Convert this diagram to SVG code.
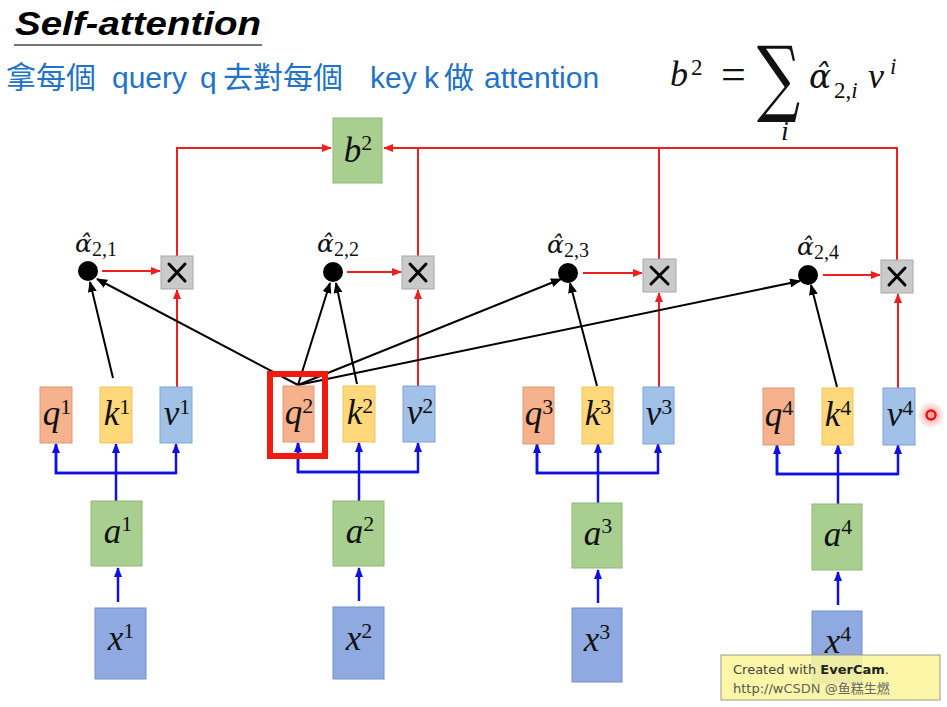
<svg xmlns="http://www.w3.org/2000/svg" width="947" height="707" viewBox="0 0 947 707">
<defs>
<marker id="ar" markerUnits="userSpaceOnUse" markerWidth="10" markerHeight="8" refX="9" refY="4" orient="auto"><path d="M0,0 L10,4 L0,8 Z" fill="#f01e1e"/></marker>
<marker id="ab" markerUnits="userSpaceOnUse" markerWidth="10" markerHeight="8" refX="9" refY="4" orient="auto"><path d="M0,0 L10,4 L0,8 Z" fill="#1010e0"/></marker>
<marker id="ak" markerUnits="userSpaceOnUse" markerWidth="11" markerHeight="9" refX="10" refY="4.5" orient="auto"><path d="M0,0 L11,4.5 L0,9 Z" fill="#000"/></marker>
<radialGradient id="glow"><stop offset="0" stop-color="#ff4040" stop-opacity="0.55"/><stop offset="1" stop-color="#ff4040" stop-opacity="0"/></radialGradient>
</defs>
<style>
.q{fill:#f5b28c;stroke:#e0987a;stroke-width:1}
.k{fill:#fed87a;stroke:#efc35a;stroke-width:1}
.v{fill:#a2c1e8;stroke:#80a4d2;stroke-width:1}
.g{fill:#a9cf90;stroke:#8db976;stroke-width:1}
.x{fill:#8faae0;stroke:#7190cc;stroke-width:1}
.m{fill:#cacaca;stroke:#a8a8a8;stroke-width:1}
.mx{stroke:#000;stroke-width:3;stroke-linecap:round}
.t{font-family:"Liberation Serif","DejaVu Serif",serif;font-style:italic;font-size:35px;fill:#111;text-anchor:middle}
.s{font-style:normal;font-size:22px}
.al{font-family:"DejaVu Serif","Liberation Serif",serif;font-style:italic;font-size:25px;fill:#111}
.sub{font-family:"Liberation Serif",serif;font-style:normal;font-size:20px}
.sub1{font-family:"Liberation Sans",Arial,sans-serif;font-size:30px;fill:#2273c8}
.red{stroke:#f01e1e;stroke-width:2;fill:none}
.blu{stroke:#1010e0;stroke-width:2.5;fill:none}
.blk{stroke:#000;stroke-width:2;fill:none}
</style>
<rect width="947" height="707" fill="#fff"/>

<g id="title">
<text x="15" y="35" font-family="'Liberation Sans',Arial,sans-serif" font-weight="bold" font-style="italic" font-size="34" textLength="246" lengthAdjust="spacingAndGlyphs" fill="#000">Self-attention</text>
<line x1="14" y1="45" x2="262" y2="45" stroke="#777" stroke-width="2"/>
</g>
<g id="subtitle">
<text class="sub1" y="88"><tspan x="6" font-family="'Noto Sans CJK TC',sans-serif">拿每個</tspan><tspan x="112">query</tspan><tspan x="200">q</tspan><tspan x="223" font-family="'Noto Sans CJK TC',sans-serif">去對每個</tspan><tspan x="370">key</tspan><tspan x="424">k</tspan><tspan x="444" font-family="'Noto Sans CJK TC',sans-serif">做</tspan><tspan x="484">attention</tspan></text>
</g>
<g id="formula" font-family="'Liberation Serif','DejaVu Serif',serif" fill="#111">
<text font-style="italic" font-size="36"><tspan x="670" y="86">b</tspan><tspan x="691" y="75" font-style="normal" font-size="23">2</tspan><tspan x="721" y="89" font-style="normal" font-size="44">=</tspan><tspan x="809" y="88" font-family="'DejaVu Serif',serif" font-size="33">α̂</tspan><tspan x="834" y="98" font-style="normal" font-size="23">2,</tspan><tspan font-size="23">i</tspan><tspan x="868" y="88">v</tspan><tspan x="890" y="74" font-size="23">i</tspan></text>
<text x="0" y="0" font-family="'DejaVu Serif',serif" font-size="84" transform="translate(757,106) scale(0.72,1)">∑</text>
<text x="781" y="140" font-style="italic" font-size="28">i</text>
</g>

<g id="connectors">
<path class="red" d="M177,256 V148 H331" marker-end="url(#ar)"/>
<path class="red" d="M897,260 V148 H384" marker-end="url(#ar)"/>
<path class="red" d="M418,256 V148"/>
<path class="red" d="M659,259 V148"/>
<path class="red" d="M102,271 H160" marker-end="url(#ar)"/>
<path class="red" d="M347,272 H401" marker-end="url(#ar)"/>
<path class="red" d="M583,273 H642" marker-end="url(#ar)"/>
<path class="red" d="M823,275 H880" marker-end="url(#ar)"/>
<path class="red" d="M177,387 V290" marker-end="url(#ar)"/>
<path class="red" d="M418,386 V290" marker-end="url(#ar)"/>
<path class="red" d="M659,387 V293" marker-end="url(#ar)"/>
<path class="red" d="M898,388 V294" marker-end="url(#ar)"/>
<path class="blk" d="M113,378 L90,282" marker-end="url(#ak)"/>
<path class="blk" d="M298,385 L97,279" marker-end="url(#ak)"/>
<path class="blk" d="M298,385 L330,283" marker-end="url(#ak)"/>
<path class="blk" d="M357,384 L336,283" marker-end="url(#ak)"/>
<path class="blk" d="M298,385 L561,279" marker-end="url(#ak)"/>
<path class="blk" d="M597,386 L570,283" marker-end="url(#ak)"/>
<path class="blk" d="M298,385 L800,281" marker-end="url(#ak)"/>
<path class="blk" d="M837,387 L811,285" marker-end="url(#ak)"/>
<path class="blu" d="M116,501 V444" marker-end="url(#ab)"/>
<path class="blu" d="M56,444 V473 H176 V444" marker-end="url(#ab)"/>
<path class="blu" d="M176,473 H56 V444" marker-end="url(#ab)"/>
<path class="blu" d="M359,501 V443" marker-end="url(#ab)"/>
<path class="blu" d="M298,443 V472 H418 V443" marker-end="url(#ab)"/>
<path class="blu" d="M418,472 H298 V443" marker-end="url(#ab)"/>
<path class="blu" d="M598,503 V444" marker-end="url(#ab)"/>
<path class="blu" d="M537,444 V473 H658 V444" marker-end="url(#ab)"/>
<path class="blu" d="M658,473 H537 V444" marker-end="url(#ab)"/>
<path class="blu" d="M838,504 V445" marker-end="url(#ab)"/>
<path class="blu" d="M777,445 V474 H898 V445" marker-end="url(#ab)"/>
<path class="blu" d="M898,474 H777 V445" marker-end="url(#ab)"/>
<path class="blu" d="M118,602 V568" marker-end="url(#ab)"/>
<path class="blu" d="M359,601 V568" marker-end="url(#ab)"/>
<path class="blu" d="M598,603 V570" marker-end="url(#ab)"/>
<path class="blu" d="M838,605 V572" marker-end="url(#ab)"/>
</g>

<g id="b2"><rect class="g" x="333" y="118" width="49" height="65"/><text class="t" x="358" y="162" font-size="32">b<tspan class="s" dy="-12">2</tspan></text></g>

<g id="alpha21"><circle cx="88" cy="271" r="10" fill="#000"/><text class="al" x="75" y="252">α̂<tspan class="sub" dy="4">2,1</tspan></text></g>
<g id="alpha22"><circle cx="333" cy="272" r="10" fill="#000"/><text class="al" x="317" y="252">α̂<tspan class="sub" dy="4">2,2</tspan></text></g>
<g id="alpha23"><circle cx="568" cy="273" r="10" fill="#000"/><text class="al" x="547" y="253">α̂<tspan class="sub" dy="4">2,3</tspan></text></g>
<g id="alpha24"><circle cx="808" cy="275" r="10" fill="#000"/><text class="al" x="797" y="255">α̂<tspan class="sub" dy="4">2,4</tspan></text></g>

<g id="mul1"><rect class="m" x="161" y="256" width="32" height="33"/><path class="mx" d="M169,264 L185,281 M185,264 L169,281"/></g>
<g id="mul2"><rect class="m" x="402" y="256" width="32" height="33"/><path class="mx" d="M410,264 L426,281 M426,264 L410,281"/></g>
<g id="mul3"><rect class="m" x="643" y="259" width="33" height="33"/><path class="mx" d="M651,267 L668,284 M668,267 L651,284"/></g>
<g id="mul4"><rect class="m" x="881" y="260" width="32" height="33"/><path class="mx" d="M889,268 L905,285 M905,268 L889,285"/></g>

<g id="q1"><rect class="q" x="40" y="387" width="32" height="56"/><text class="t" x="57" y="425">q<tspan class="s" dy="-11">1</tspan></text></g>
<g id="k1"><rect class="k" x="100" y="387" width="32" height="56"/><text class="t" x="117" y="425">k<tspan class="s" dy="-11">1</tspan></text></g>
<g id="v1"><rect class="v" x="160" y="387" width="32" height="56"/><text class="t" x="177" y="425">v<tspan class="s" dy="-11">1</tspan></text></g>

<g id="q2"><rect class="q" x="283" y="386" width="31" height="56"/><text class="t" x="299" y="424">q<tspan class="s" dy="-11">2</tspan></text><rect x="270" y="374" width="55" height="82" fill="none" stroke="#f01a10" stroke-width="6"/></g>
<g id="k2"><rect class="k" x="343" y="386" width="32" height="56"/><text class="t" x="360" y="424">k<tspan class="s" dy="-11">2</tspan></text></g>
<g id="v2"><rect class="v" x="403" y="386" width="32" height="56"/><text class="t" x="420" y="424">v<tspan class="s" dy="-11">2</tspan></text></g>

<g id="q3"><rect class="q" x="523" y="387" width="31" height="57"/><text class="t" x="539" y="425">q<tspan class="s" dy="-11">3</tspan></text></g>
<g id="k3"><rect class="k" x="582" y="387" width="31" height="57"/><text class="t" x="598" y="425">k<tspan class="s" dy="-11">3</tspan></text></g>
<g id="v3"><rect class="v" x="643" y="387" width="31" height="57"/><text class="t" x="659" y="425">v<tspan class="s" dy="-11">3</tspan></text></g>

<g id="q4"><rect class="q" x="763" y="388" width="31" height="57"/><text class="t" x="779" y="426">q<tspan class="s" dy="-11">4</tspan></text></g>
<g id="k4"><rect class="k" x="822" y="388" width="31" height="57"/><text class="t" x="838" y="426">k<tspan class="s" dy="-11">4</tspan></text></g>
<g id="v4"><rect class="v" x="883" y="388" width="32" height="57"/><text class="t" x="900" y="426">v<tspan class="s" dy="-11">4</tspan></text></g>

<g id="a1"><rect class="g" x="91" y="501" width="51" height="65"/><text class="t" x="118" y="543">a<tspan class="s" dy="-12">1</tspan></text></g>
<g id="a2"><rect class="g" x="333" y="501" width="51" height="65"/><text class="t" x="360" y="543">a<tspan class="s" dy="-12">2</tspan></text></g>
<g id="a3"><rect class="g" x="572" y="503" width="50" height="65"/><text class="t" x="598" y="545">a<tspan class="s" dy="-12">3</tspan></text></g>
<g id="a4"><rect class="g" x="812" y="504" width="50" height="66"/><text class="t" x="838" y="546">a<tspan class="s" dy="-12">4</tspan></text></g>

<g id="x1"><rect class="x" x="95" y="608" width="51" height="71"/><text class="t" x="121" y="650">x<tspan class="s" dy="-12">1</tspan></text></g>
<g id="x2"><rect class="x" x="333" y="607" width="51" height="72"/><text class="t" x="359" y="650">x<tspan class="s" dy="-12">2</tspan></text></g>
<g id="x3"><rect class="x" x="572" y="608" width="50" height="74"/><text class="t" x="597" y="651">x<tspan class="s" dy="-12">3</tspan></text></g>
<g id="x4"><rect class="x" x="812" y="611" width="50" height="72"/><text class="t" x="838" y="653">x<tspan class="s" dy="-12">4</tspan></text></g>

<g id="pointer"><circle cx="931" cy="415" r="14" fill="url(#glow)"/><circle cx="931" cy="415" r="4.5" fill="none" stroke="#f01010" stroke-width="2.5"/></g>

<g id="watermark">
<rect x="721" y="655" width="219" height="45" fill="#fbf59c" fill-opacity="0.88" stroke="#9a9a8a" stroke-width="1"/>
<text x="733" y="674" font-family="'DejaVu Sans',Verdana,sans-serif" font-size="13" fill="#444">Created with <tspan font-weight="bold" fill="#222">EverCam</tspan>.</text>
<text x="733" y="693" font-family="'DejaVu Sans','Noto Sans CJK SC',sans-serif" font-size="13" fill="#555">http://w<tspan fill="#666">CSDN @鱼糕生燃</tspan></text>
</g>
</svg>
